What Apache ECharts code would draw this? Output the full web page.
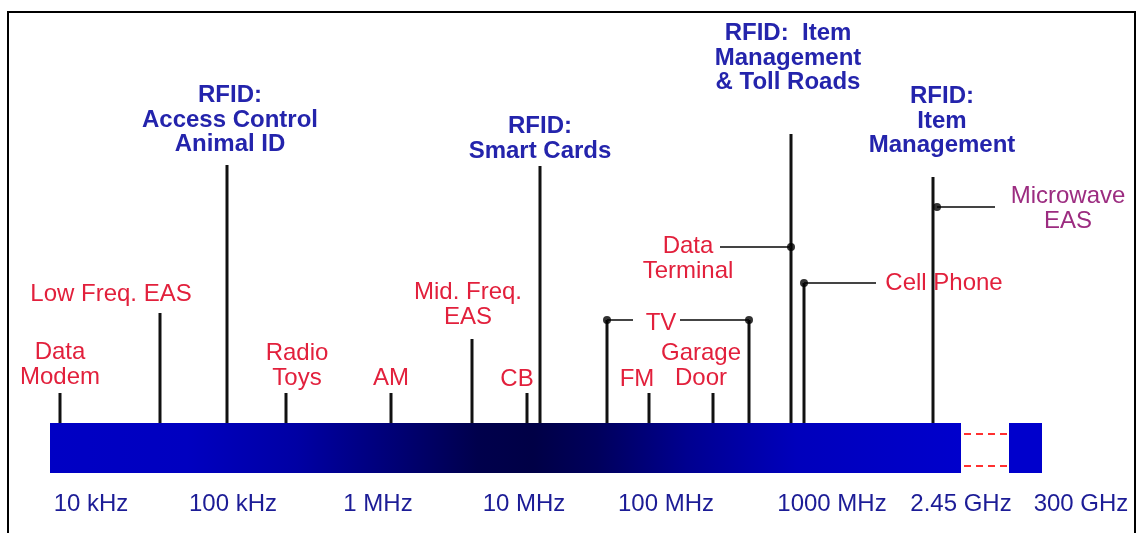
<!DOCTYPE html>
<html>
<head>
<meta charset="utf-8">
<title>RFID frequency spectrum</title>
<script src="https://cdn.jsdelivr.net/npm/echarts@6/dist/echarts.min.js"></script>
<style>
  html, body { margin: 0; padding: 0; background: #fff; }
  #chart { width: 1139px; height: 533px; }
</style>
</head>
<body>
<div id="chart"></div>
<script>
// positions are along the spectrum strip, heights are above the strip top
var barSpan = [0, 911];
var blockSpan = [959, 992];
var barDepth = -50;
var breakHeights = [-11, -43];

var tickLabels = ['10 kHz', '100 kHz', '1 MHz', '10 MHz', '100 MHz', '1000 MHz', '2.45 GHz', '300 GHz'];
var tickPos = [41, 183, 328, 474, 616, 782, 911, 1031];

var stemPos = [10, 110, 177, 236, 341, 422, 477, 490, 557, 599, 663, 699, 741, 754, 883];
var stemHeight = [30, 110, 258, 30, 30, 84, 30, 257, 103, 30, 30, 103, 289, 140, 246];

var dotPos = [557, 699, 741, 754, 887];
var dotHeight = [103, 103, 176, 140, 216];

var leaderFrom = [557, 630, 670, 754, 887];
var leaderTo = [583, 699, 741, 826, 945];
var leaderHeight = [103, 103, 176, 140, 216];

var useLabels = ['Data\nModem', 'Low Freq. EAS', 'Radio\nToys', 'AM', 'Mid. Freq.\nEAS', 'CB',
  'FM', 'Garage\nDoor', 'TV', 'Data\nTerminal', 'Cell Phone'];
var useLabelPos = [10, 61, 247, 341, 418, 467, 587, 651, 611, 638, 894];
var useLabelHeight = [58, 129, 57, 45, 118, 44, 44, 57, 100, 164, 140];

var rfidLabels = ['RFID:\nAccess Control\nAnimal ID', 'RFID:\nSmart Cards',
  'RFID:  Item\nManagement\n& Toll Roads', 'RFID:\nItem\nManagement'];
var rfidLabelPos = [180, 490, 738, 892];
var rfidLabelHeight = [303, 284, 365, 302];

var easLabels = ['Microwave\nEAS'];
var easLabelPos = [1018];
var easLabelHeight = [214];

var FONT = '"Liberation Sans", Arial, sans-serif';

function pairs(xs, ys) {
  return xs.map(function (x, i) { return [x, ys[i]]; });
}

function textSeries(name, texts, xs, ys, color, weight) {
  return {
    name: name,
    type: 'custom',
    silent: true,
    clip: false,
    z: 10,
    data: pairs(xs, ys),
    renderItem: function (params, api) {
      var p = api.coord([api.value(0), api.value(1)]);
      return {
        type: 'text',
        x: p[0],
        y: p[1],
        style: {
          text: texts[params.dataIndex],
          fill: color,
          fontFamily: FONT,
          fontSize: 24,
          fontWeight: weight,
          lineHeight: 24.5,
          align: 'center',
          verticalAlign: 'middle'
        }
      };
    }
  };
}

var chart = echarts.init(document.getElementById('chart'));

var stripFill = new echarts.graphic.LinearGradient(0, 0, 1, 0, [
  { offset: 0, color: '#0000c4' },
  { offset: 0.15, color: '#0000c0' },
  { offset: 0.27, color: '#0000a4' },
  { offset: 0.38, color: '#000074' },
  { offset: 0.47, color: '#00004c' },
  { offset: 0.53, color: '#000046' },
  { offset: 0.6, color: '#00005c' },
  { offset: 0.7, color: '#000090' },
  { offset: 0.82, color: '#0000bc' },
  { offset: 1, color: '#0000cc' }
]);

var option = {
  animation: false,
  graphic: [{
    type: 'rect',
    shape: { x: 8, y: 12, width: 1127, height: 540 },
    style: { fill: 'none', stroke: '#000', lineWidth: 2 },
    silent: true
  }],
  grid: { left: 50, top: 0, width: 1050, height: 473 },
  xAxis: {
    type: 'value',
    min: 0,
    max: 1050,
    axisLine: { show: false },
    axisTick: { show: false },
    splitLine: { show: false },
    axisLabel: {
      customValues: tickPos,
      margin: 19,
      color: '#1c1c96',
      fontSize: 24,
      fontFamily: FONT,
      formatter: function (v) {
        return tickLabels[tickPos.indexOf(v)];
      }
    }
  },
  yAxis: {
    type: 'value',
    min: barDepth,
    max: 423,
    show: false
  },
  series: [
    {
      name: 'strip',
      type: 'custom',
      silent: true,
      data: [[barSpan[0], barSpan[1], blockSpan[0], blockSpan[1]]],
      renderItem: function (params, api) {
        var a = api.coord([api.value(0), 0]);
        var b = api.coord([api.value(1), barDepth]);
        var c = api.coord([api.value(2), 0]);
        var d = api.coord([api.value(3), barDepth]);
        var kids = [
          { type: 'rect', shape: { x: a[0], y: a[1], width: b[0] - a[0], height: b[1] - a[1] }, style: { fill: stripFill } },
          { type: 'rect', shape: { x: c[0], y: c[1], width: d[0] - c[0], height: d[1] - c[1] }, style: { fill: '#0000cc' } }
        ];
        breakHeights.forEach(function (h) {
          var s = api.coord([api.value(1), h]);
          var e = api.coord([api.value(2), h]);
          kids.push({
            type: 'line',
            shape: { x1: s[0] + 3, y1: s[1], x2: e[0] - 2, y2: e[1] },
            style: { stroke: '#ff3030', lineWidth: 2, lineDash: [7, 5] }
          });
        });
        return { type: 'group', children: kids };
      }
    },
    {
      name: 'stems',
      type: 'custom',
      silent: true,
      z: 3,
      data: pairs(stemPos, stemHeight),
      renderItem: function (params, api) {
        var top = api.coord([api.value(0), api.value(1)]);
        var base = api.coord([api.value(0), 0]);
        return {
          type: 'line',
          shape: { x1: top[0], y1: top[1], x2: base[0], y2: base[1] },
          style: { stroke: '#111', lineWidth: 3 }
        };
      }
    },
    {
      name: 'leaders',
      type: 'custom',
      silent: true,
      z: 3,
      data: leaderFrom.map(function (x, i) { return [x, leaderTo[i], leaderHeight[i]]; }),
      renderItem: function (params, api) {
        var s = api.coord([api.value(0), api.value(2)]);
        var e = api.coord([api.value(1), api.value(2)]);
        return {
          type: 'line',
          shape: { x1: s[0], y1: s[1], x2: e[0], y2: e[1] },
          style: { stroke: '#444', lineWidth: 2 }
        };
      }
    },
    {
      name: 'dots',
      type: 'scatter',
      silent: true,
      z: 4,
      symbol: 'circle',
      symbolSize: 8,
      itemStyle: { color: '#000' },
      data: pairs(dotPos, dotHeight)
    },
    textSeries('uses', useLabels, useLabelPos, useLabelHeight, '#e2203c', 'normal'),
    textSeries('rfid', rfidLabels, rfidLabelPos, rfidLabelHeight, '#2424ac', 'bold'),
    textSeries('eas', easLabels, easLabelPos, easLabelHeight, '#9c2c80', 'normal')
  ]
};

chart.setOption(option);
</script>
</body>
</html>
